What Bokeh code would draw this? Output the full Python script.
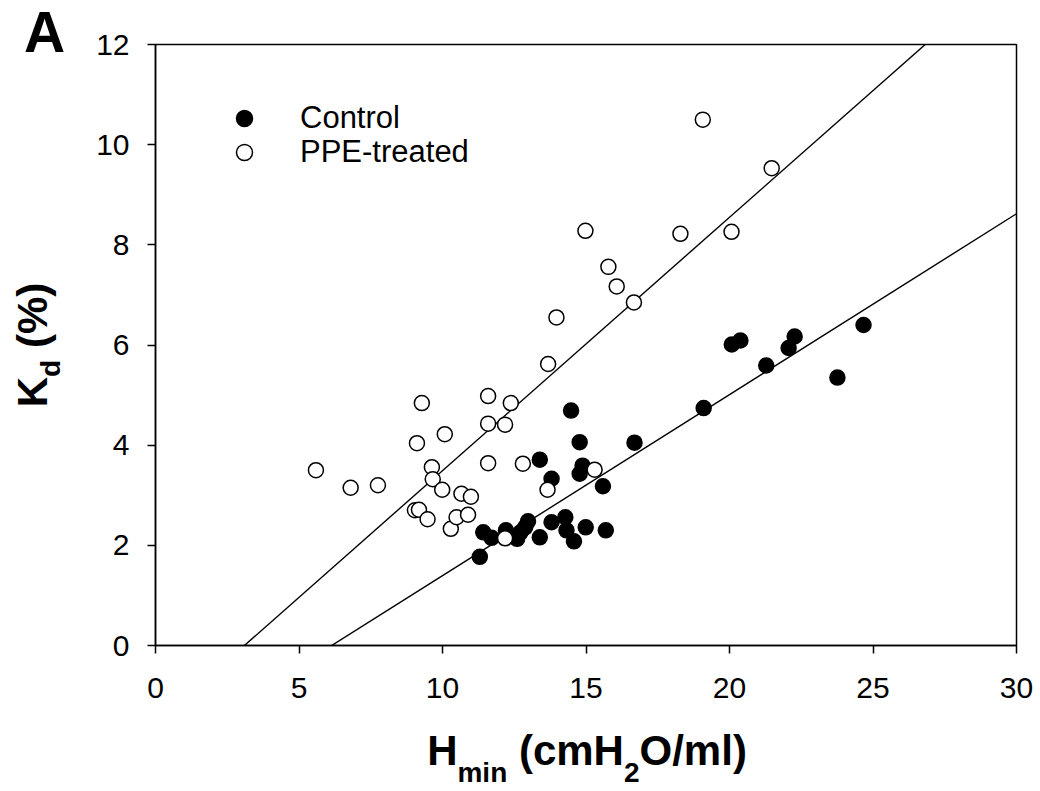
from bokeh.plotting import figure
from bokeh.models import Range1d, Legend, LegendItem, FixedTicker, Div
from bokeh.layouts import column, row
from bokeh.embed import file_html
from bokeh.resources import INLINE

# ---------------- data ----------------
control_hmin = [11.30, 11.42, 11.71, 12.21, 12.60, 12.72, 12.88, 12.98, 13.39, 13.80,
                14.28, 14.32, 14.58, 14.99, 15.69, 13.39, 13.80, 14.48, 14.78, 14.88,
                14.78, 15.59, 16.69, 19.10, 20.08, 20.38, 21.28, 22.06, 22.27, 23.76, 24.67]
control_kd = [1.77, 2.26, 2.15, 2.30, 2.13, 2.26, 2.36, 2.48, 2.16, 2.46,
              2.56, 2.30, 2.08, 2.36, 2.30, 3.71, 3.33, 4.69, 4.06, 3.59,
              3.43, 3.18, 4.05, 4.74, 6.01, 6.09, 5.59, 5.94, 6.17, 5.35, 6.40]

ppe_hmin = [5.59, 6.80, 7.75, 9.28, 9.11, 10.08, 11.59, 12.38, 11.59, 12.18,
            9.63, 9.66, 9.99, 10.66, 10.99, 11.59, 9.04, 9.18, 9.48, 10.29,
            10.49, 10.89, 12.18, 12.80, 13.66, 15.30, 19.07, 21.47, 14.98, 18.29,
            20.07, 15.78, 16.07, 16.67, 13.97, 13.68]
ppe_kd = [3.50, 3.15, 3.20, 4.84, 4.04, 4.22, 4.98, 4.84, 4.43, 4.41,
          3.56, 3.32, 3.11, 3.03, 2.97, 3.64, 2.70, 2.71, 2.52, 2.33,
          2.56, 2.61, 2.14, 3.63, 3.11, 3.51, 10.50, 9.53, 8.28, 8.22,
          8.26, 7.56, 7.17, 6.85, 6.55, 5.62]

# regression lines (slope, intercept)
control_fit = (0.3613, -2.218)
ppe_fit = (0.5059, -1.568)

x_ticks = [0, 5, 10, 15, 20, 25, 30]
y_ticks = [0, 2, 4, 6, 8, 10, 12]
series_labels = ["Control", "PPE-treated"]
panel_letter = "A"

FONT = "Liberation Sans"

# ---------------- layout sizes ----------------
TOTAL_W, TOTAL_H = 1040, 791
YDIV_W = 70
P_W = TOTAL_W - YDIV_W
P_H = 711
XDIV_H = TOTAL_H - P_H

# ---------------- figure ----------------
p = figure(width=P_W, height=P_H, output_backend="svg", toolbar_location=None,
           x_range=Range1d(0, 30), y_range=Range1d(0, 12),
           min_border_left=85, min_border_right=24, min_border_top=44,
           min_border_bottom=P_H - 44 - 601, margin=0)
p.grid.visible = False
p.outline_line_color = "black"
p.outline_line_width = 1.5
p.background_fill_color = "white"
p.border_fill_color = "white"

for ax, ticks in ((p.xaxis[0], x_ticks), (p.yaxis[0], y_ticks)):
    ax.ticker = FixedTicker(ticks=ticks)
    ax.axis_line_color = "black"
    ax.axis_line_width = 1.5
    ax.major_tick_line_color = "black"
    ax.major_tick_line_width = 1.5
    ax.major_tick_in = 0
    ax.major_tick_out = 8
    ax.minor_tick_line_color = None
    ax.major_label_text_font = FONT
    ax.major_label_text_font_size = "30px"
    ax.major_label_text_color = "black"
p.xaxis[0].major_label_standoff = 24
p.yaxis[0].major_label_standoff = 18

# fit lines (drawn across the x range, clipped by the frame)
xr = [x_ticks[0], x_ticks[-1]]
p.line(xr, [control_fit[0] * v + control_fit[1] for v in xr], line_color="black", line_width=1.4)
p.line(xr, [ppe_fit[0] * v + ppe_fit[1] for v in xr], line_color="black", line_width=1.4)

rc = p.scatter(control_hmin, control_kd, size=15, marker="circle",
               fill_color="black", line_color="black", line_width=1.5)
rp = p.scatter(ppe_hmin, ppe_kd, size=15, marker="circle",
               fill_color="white", line_color="black", line_width=1.5)


def one_legend(label, renderer, loc):
    return Legend(items=[LegendItem(label=label, renderers=[renderer])],
                  location=loc, glyph_width=40, glyph_height=40,
                  label_standoff=36, padding=0, margin=0, spacing=0,
                  border_line_color=None, background_fill_alpha=0,
                  label_text_font=FONT, label_text_font_size="31px",
                  label_text_color="black")


p.add_layout(one_legend(series_labels[0], rc, (69, 507.5)))
p.add_layout(one_legend(series_labels[1], rp, (69, 472.7)))

# ---------------- axis titles (HTML, with real subscripts) ----------------
base = f"font-family:'{FONT}';font-weight:bold;color:black;white-space:nowrap;"
sub = "font-size:28px;position:relative;"

xtitle = Div(width=TOTAL_W, height=XDIV_H, margin=0, styles={"overflow": "visible"}, text=(
    f'<div style="position:relative;width:{TOTAL_W}px;height:{XDIV_H}px;">'
    f'<div style="position:absolute;left:587px;top:19px;transform:translateX(-50%);'
    f'{base}font-size:42px;line-height:1;">'
    f'H<span style="{sub}top:17px;">min</span> (cmH<span style="{sub}top:17px;">2</span>O/ml)'
    f'</div></div>'))

ytitle = Div(width=YDIV_W, height=P_H, margin=0, styles={"overflow": "visible"}, text=(
    f'<div style="position:relative;width:{YDIV_W}px;height:{P_H}px;">'
    f'<div style="position:absolute;left:24px;top:4px;{base}font-size:57px;line-height:1;">'
    f'{panel_letter}</div>'
    f'<div style="position:absolute;left:32.7px;top:344.5px;'
    f'transform:translate(-50%,-50%) rotate(-90deg);{base}font-size:42px;line-height:1;">'
    f'K<span style="{sub}top:13px;">d</span> (%)'
    f'</div></div>'))

layout = column(row(ytitle, p, spacing=0, margin=0), xtitle, spacing=0, margin=0)

open("out.html", "w").write(file_html(layout, INLINE))
